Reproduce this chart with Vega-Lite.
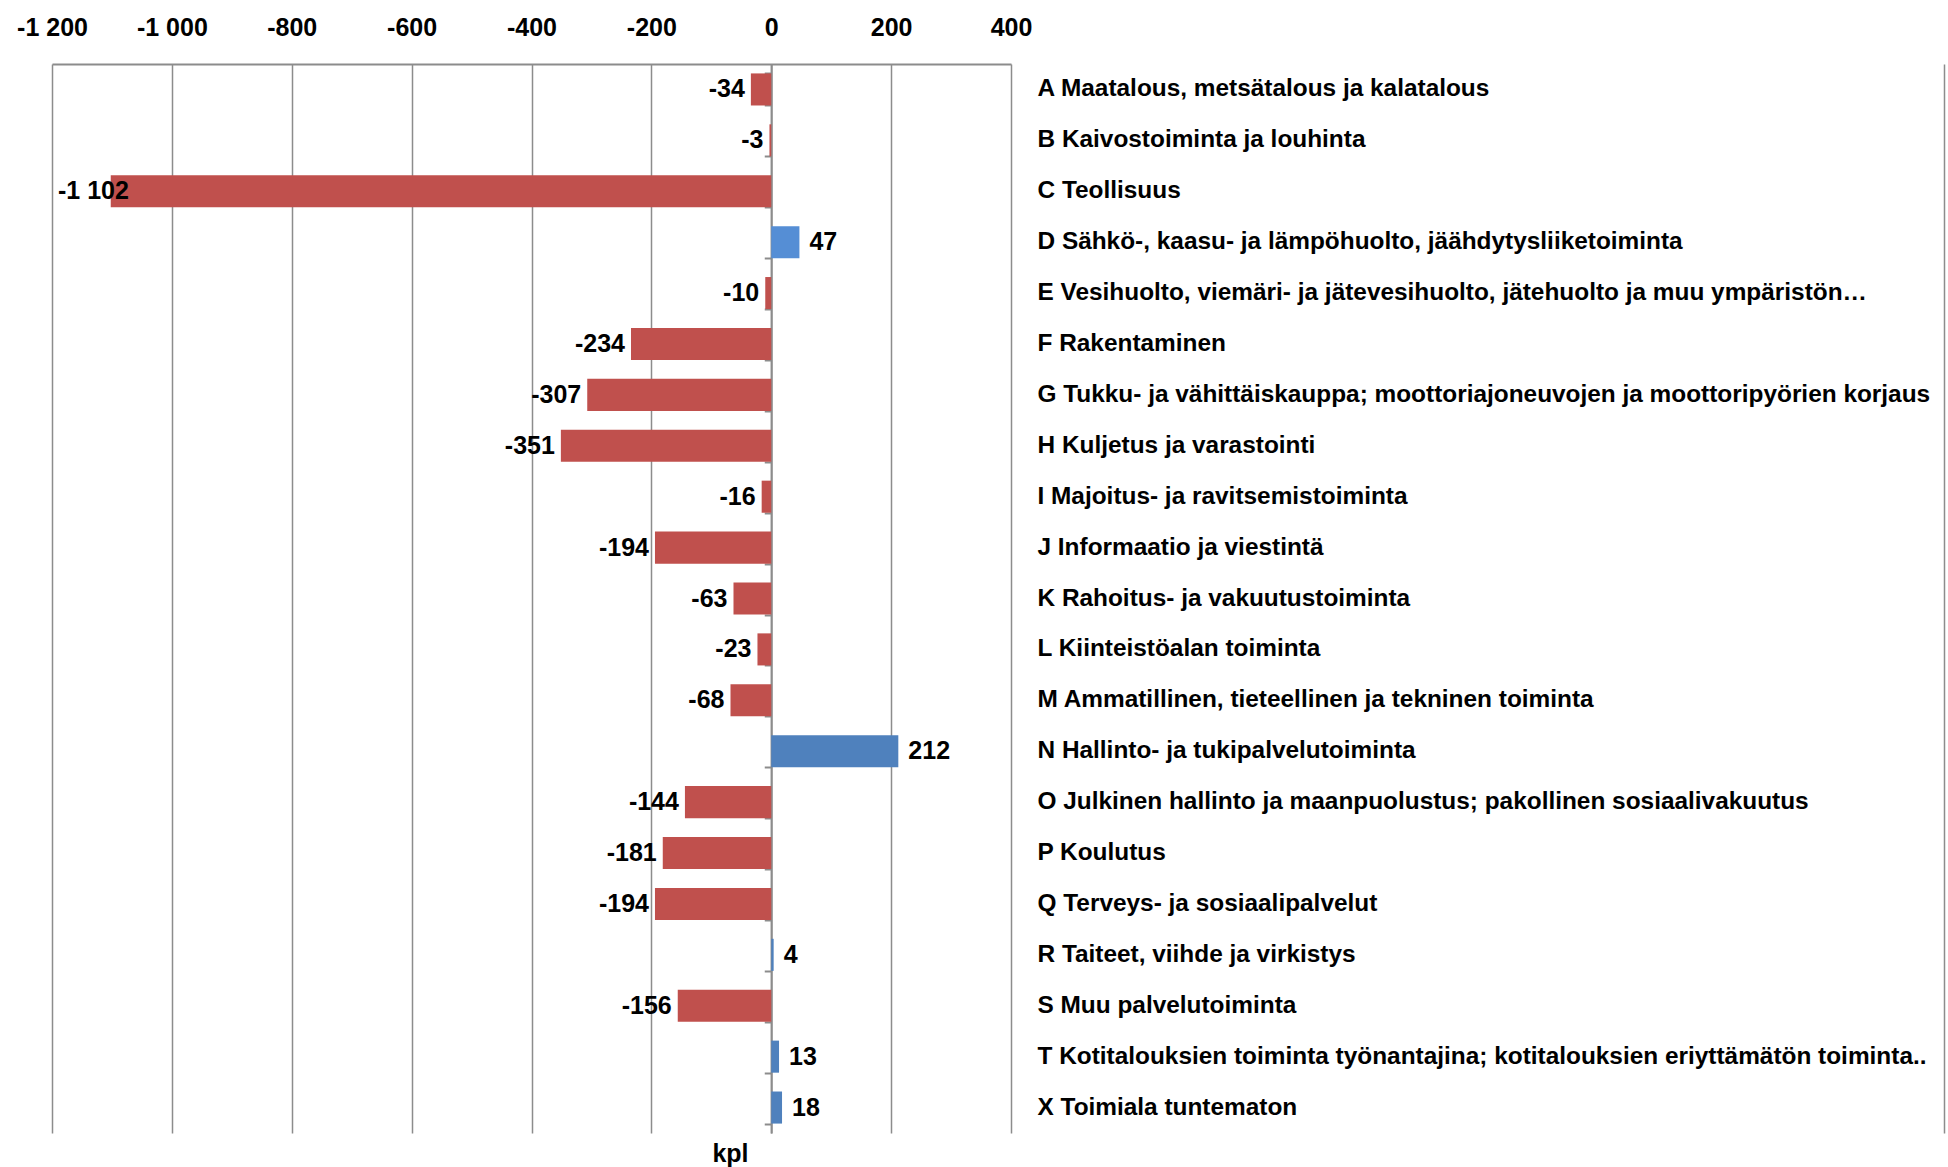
{
  "$schema": "https://vega.github.io/schema/vega-lite/v6.json",
  "autosize": "none",
  "width": 959,
  "height": 1069,
  "padding": {"left": 52, "top": 64, "right": 937, "bottom": 34},
  "background": "white",
  "config": {
    "font": "Liberation Sans",
    "view": {"stroke": null},
    "locale": {"number": {"decimal": ",", "thousands": " ", "grouping": [3], "currency": ["", " €"], "minus": "-"}}
  },
  "data": {"values": [
    {"label": "A Maatalous, metsätalous ja kalatalous", "value": -34},
    {"label": "B Kaivostoiminta ja louhinta", "value": -3},
    {"label": "C Teollisuus", "value": -1102},
    {"label": "D Sähkö-, kaasu- ja lämpöhuolto, jäähdytysliiketoiminta", "value": 47},
    {"label": "E Vesihuolto, viemäri- ja jätevesihuolto, jätehuolto ja muu ympäristön…", "value": -10},
    {"label": "F Rakentaminen", "value": -234},
    {"label": "G Tukku- ja vähittäiskauppa; moottoriajoneuvojen ja moottoripyörien korjaus", "value": -307},
    {"label": "H Kuljetus ja varastointi", "value": -351},
    {"label": "I Majoitus- ja ravitsemistoiminta", "value": -16},
    {"label": "J Informaatio ja viestintä", "value": -194},
    {"label": "K Rahoitus- ja vakuutustoiminta", "value": -63},
    {"label": "L Kiinteistöalan toiminta", "value": -23},
    {"label": "M Ammatillinen, tieteellinen ja tekninen toiminta", "value": -68},
    {"label": "N Hallinto- ja tukipalvelutoiminta", "value": 212},
    {"label": "O Julkinen hallinto ja maanpuolustus; pakollinen sosiaalivakuutus", "value": -144},
    {"label": "P Koulutus", "value": -181},
    {"label": "Q Terveys- ja sosiaalipalvelut", "value": -194},
    {"label": "R Taiteet, viihde ja virkistys", "value": 4},
    {"label": "S Muu palvelutoiminta", "value": -156},
    {"label": "T Kotitalouksien toiminta työnantajina; kotitalouksien eriyttämätön toiminta..", "value": 13},
    {"label": "X Toimiala tuntematon", "value": 18}
  ]},
  "resolve": {"axis": {"x": "independent", "y": "independent"}},
  "layer": [
    {
      "mark": {"type": "bar"},
      "encoding": {
        "y": {"field": "label", "type": "nominal", "sort": null,
          "scale": {"paddingInner": 0.37, "paddingOuter": 0.185},
          "axis": {"orient": "left", "offset": -719.25, "labels": false, "title": null,
            "domain": true, "domainColor": "#8c8c8c", "domainWidth": 2,
            "ticks": true, "tickBand": "extent", "tickSize": 7, "tickColor": "#8c8c8c", "tickWidth": 2, "grid": false}},
        "x": {"field": "value", "type": "quantitative",
          "scale": {"domain": [-1200, 400], "nice": false, "zero": false},
          "axis": {"orient": "top", "values": [-1200, -1000, -800, -600, -400, -200, 0, 200, 400],
            "format": ",d", "title": null, "grid": true, "gridColor": "#8c8c8c", "gridWidth": 1.5, "gridOpacity": 1,
            "domain": true, "domainColor": "#8c8c8c", "domainWidth": 2, "ticks": false,
            "labelFontSize": 25, "labelFontWeight": "bold", "labelColor": "#000000", "labelPadding": 24,
            "labelFlush": false, "labelOverlap": false}},
        "color": {
          "condition": [
            {"test": "substring(datum.label, 0, 1) === 'D'", "value": "#558ED5"},
            {"test": "datum.value < 0", "value": "#C0504D"}
          ],
          "value": "#4F81BD"
        }
      }
    },
    {
      "transform": [{"filter": "datum.value > -1000"}],
      "mark": {"type": "text", "fontSize": 25, "fontWeight": "bold", "color": "#000000",
        "align": {"expr": "datum.value < 0 ? 'right' : 'left'"},
        "dx": {"expr": "datum.value < 0 ? -6 : 10"}},
      "encoding": {
        "y": {"field": "label", "type": "nominal", "sort": null,
          "axis": {"orient": "right", "offset": 933, "title": null,
            "domain": true, "domainColor": "#8c8c8c", "domainWidth": 1.5,
            "ticks": false, "tickSize": 0, "labelPadding": -907, "labelAlign": "left",
            "labelLimit": 1200, "labelFontSize": 24.4, "labelFontWeight": "bold", "labelColor": "#000000", "grid": false}},
        "x": {"field": "value", "type": "quantitative",
          "axis": {"orient": "bottom", "labels": false, "ticks": false, "domain": false, "grid": false,
            "title": "kpl", "titleFontSize": 25, "titleFontWeight": "bold", "titleColor": "#000000",
            "titleX": 678, "titlePadding": 8}},
        "text": {"field": "value", "type": "quantitative", "format": ",d"}
      }
    },
    {
      "transform": [{"filter": "datum.value <= -1000"}],
      "mark": {"type": "text", "fontSize": 25, "fontWeight": "bold", "color": "#000000", "align": "left", "dx": 6},
      "encoding": {
        "y": {"field": "label", "type": "nominal", "sort": null, "axis": null},
        "x": {"datum": -1200, "type": "quantitative", "axis": null},
        "text": {"field": "value", "type": "quantitative", "format": ",d"}
      }
    }
  ]
}
